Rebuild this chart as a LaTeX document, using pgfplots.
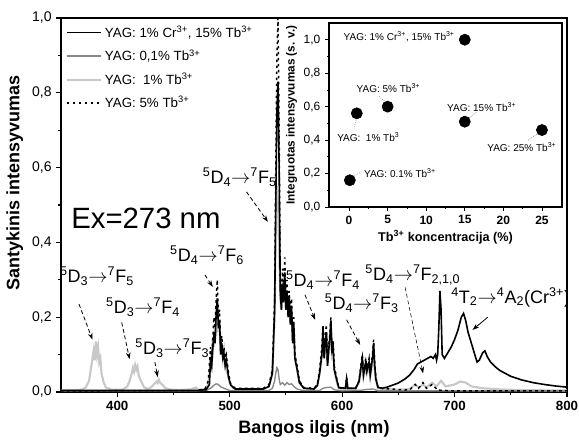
\documentclass[border=0pt]{standalone}
\usepackage{fontspec}
\setmainfont{Liberation Sans}
\usepackage{pgfplots}
\pgfplotsset{compat=1.18}
\usetikzlibrary{arrows.meta}

\definecolor{lgray}{RGB}{200,200,200}
\definecolor{mgray}{RGB}{135,135,135}

% transition label: ^aD_b -> ^cF_d
\newcommand{\tr}[4]{\textsuperscript{#1}D\textsubscript{#2}$\rightarrow$\textsuperscript{#3}F\textsubscript{#4}}

\begin{document}
\begin{tikzpicture}
\path[use as bounding box] (-45.75pt,-41.25pt) rectangle (388.5pt,294pt);
\begin{axis}[
  name=main,
  scale only axis,
  width=379.5pt, height=280.5pt,
  xmin=350, xmax=800, ymin=0, ymax=1.0,
  xtick={400,500,600,700,800},
  ytick={0,0.2,0.4,0.6,0.8,1.0},
  minor x tick num=1, minor y tick num=1,
  tick align=outside, tick pos=left,
  major tick length=3.5pt, minor tick length=2pt,
  axis line style={line width=1pt},
  every tick/.style={line width=0.8pt,black},
  /pgf/number format/assume math mode=true,
  x tick label style={font=\fontsize{10}{12}\selectfont\bfseries},
  y tick label style={font=\fontsize{10.5}{12}\selectfont,
    /pgf/number format/.cd,fixed,fixed zerofill,precision=1,use comma},
  xlabel={\bfseries Bangos ilgis (nm)},
  ylabel={\bfseries Santykinis intensyvumas},
  label style={font=\fontsize{13.5}{15}\selectfont},
  ylabel style={at={(ticklabel cs:0.56)}},
  legend style={at={(0.006,0.99)},anchor=north west,draw=none,fill=none,
    font=\fontsize{10}{12}\selectfont,row sep=3.6pt,inner sep=1pt},
  legend cell align=left,
  legend image code/.code={\draw[#1] (0pt,0pt) -- (26pt,0pt);},
]
\addlegendimage{black,line width=1.2pt}
\addlegendentry{YAG: 1\% Cr\textsuperscript{3+}, 15\% Tb\textsuperscript{3+}}
\addlegendimage{mgray,line width=1.5pt}
\addlegendentry{YAG: 0,1\% Tb\textsuperscript{3+}}
\addlegendimage{lgray,line width=1.5pt}
\addlegendentry{YAG:\ \ 1\% Tb\textsuperscript{3+}}
\addlegendimage{black,line width=1.1pt,dash pattern=on 2pt off 2.5pt}
\addlegendentry{YAG: 5\% Tb\textsuperscript{3+}}

% YAG: 1% Tb
\addplot[forget plot,lgray,line width=1.6pt] coordinates {
(350,0.004)(360,0.005)(368,0.006)(372,0.012)(375,0.03)(377,0.07)(378,0.09)(379,0.11)(380,0.085)(381,0.135)(382,0.1)(383,0.12)(384,0.08)(385,0.09)(386,0.05)(388,0.025)(390,0.012)(395,0.006)
(405,0.006)(409,0.015)(411,0.03)(413,0.05)(414,0.065)(415,0.055)(416,0.072)(417,0.06)(418,0.068)(419,0.045)(421,0.03)(424,0.012)(428,0.008)(431,0.015)(433,0.022)(435,0.028)(436,0.024)(437,0.033)(438,0.025)(440,0.02)(443,0.01)(448,0.006)
(455,0.005)(465,0.007)(470,0.012)(472,0.006)(478,0.008)(481,0.02)(483,0.08)(484,0.06)(485,0.14)(486,0.12)(487,0.18)(488,0.15)(489,0.22)(490,0.16)(491,0.19)(492,0.1)(493,0.13)(494,0.09)(495,0.11)(496,0.07)(498,0.05)(500,0.025)(503,0.01)
(510,0.006)(530,0.008)(535,0.015)(538,0.05)(540,0.2)(541,0.45)(542,0.55)(543,0.5)(544,0.38)(545,0.25)(546,0.22)(547,0.3)(548,0.24)(549,0.3)(550,0.22)(551,0.27)(552,0.2)(553,0.25)(554,0.18)(555,0.22)(556,0.14)(557,0.17)(558,0.1)(560,0.06)(562,0.025)(566,0.01)
(575,0.008)(578,0.018)(580,0.05)(582,0.1)(583,0.14)(584,0.09)(585,0.12)(586,0.15)(587,0.07)(588,0.1)(589,0.13)(590,0.16)(591,0.1)(592,0.11)(593,0.06)(595,0.03)(597,0.01)
(603,0.008)(604,0.03)(605,0.008)(612,0.008)(615,0.025)(617,0.06)(618,0.08)(619,0.04)(621,0.07)(622,0.05)(624,0.07)(625,0.04)(627,0.08)(628,0.1)(629,0.06)(630,0.03)(632,0.01)
(650,0.006)(660,0.008)(665,0.02)(668,0.012)(672,0.02)(675,0.012)(680,0.025)(684,0.015)(688,0.03)(692,0.015)(700,0.02)(705,0.028)(710,0.025)(715,0.015)(725,0.01)(740,0.007)(760,0.005)(800,0.004)
};
% YAG: 0,1% Tb
\addplot[forget plot,mgray,line width=1pt] coordinates {
(350,0.003)(470,0.003)(480,0.005)(484,0.012)(486,0.018)(488,0.022)(490,0.02)(492,0.014)(495,0.01)(500,0.004)
(535,0.004)(538,0.01)(540,0.03)(541,0.05)(542,0.065)(543,0.06)(544,0.035)(545,0.02)(547,0.025)(549,0.018)(551,0.025)(553,0.02)(555,0.022)(557,0.015)(560,0.008)(565,0.004)
(580,0.004)(583,0.01)(586,0.012)(590,0.013)(593,0.006)(600,0.003)(618,0.005)(622,0.007)(628,0.008)(632,0.003)(700,0.003)(800,0.003)
};
% YAG: 1% Cr, 15% Tb
\addplot[forget plot,black,line width=1.2pt] coordinates {
(350,0.004)(470,0.004)(479,0.006)(482,0.02)(483,0.09)(484,0.07)(486,0.16)(487,0.13)(488,0.21)(489,0.25)(490,0.17)(491,0.19)(492,0.1)(493,0.13)(494,0.09)(495,0.1)(496,0.07)(497,0.085)(499,0.04)(501,0.018)(505,0.008)
(530,0.008)(535,0.015)(538,0.05)(540,0.22)(541,0.5)(542,0.75)(543,0.83)(544,0.6)(545,0.27)(546,0.22)(547,0.29)(548,0.24)(549,0.32)(550,0.22)(551,0.27)(552,0.2)(553,0.25)(554,0.18)(555,0.23)(556,0.13)(557,0.18)(558,0.09)(560,0.06)(562,0.025)(566,0.01)
(575,0.008)(578,0.017)(580,0.05)(582,0.1)(583,0.17)(584,0.09)(585,0.13)(586,0.16)(587,0.07)(588,0.11)(589,0.14)(590,0.19)(591,0.11)(592,0.12)(593,0.06)(595,0.035)(597,0.012)
(603,0.01)(604,0.035)(605,0.01)(612,0.01)(615,0.028)(617,0.07)(618,0.09)(619,0.045)(621,0.08)(622,0.055)(624,0.08)(625,0.045)(627,0.09)(628,0.13)(629,0.07)(630,0.035)(632,0.012)
(636,0.01)(640,0.013)(650,0.024)(656,0.035)(660,0.045)(664,0.06)(667,0.075)(670,0.08)(673,0.085)(676,0.09)(679,0.095)(681,0.09)(683,0.1)(684,0.085)(685,0.1)(686,0.17)(687,0.27)(688,0.22)(689,0.1)(691,0.09)
(694,0.105)(697,0.12)(700,0.14)(703,0.165)(706,0.2)(708,0.21)(710,0.19)(712,0.16)(715,0.13)(718,0.1)(720,0.08)(722,0.085)(725,0.105)(727,0.11)(729,0.095)(732,0.08)(736,0.068)(740,0.058)(745,0.05)(750,0.042)(760,0.032)(770,0.025)(780,0.02)(790,0.016)(800,0.013)
};
% YAG: 5% Tb
\addplot[forget plot,black,line width=1.1pt,dash pattern=on 2pt off 2.5pt] coordinates {
(350,0.003)(470,0.004)(478,0.008)(481,0.03)(483,0.12)(484,0.09)(486,0.2)(487,0.17)(488,0.25)(489,0.30)(490,0.2)(491,0.22)(492,0.12)(493,0.15)(494,0.1)(495,0.12)(496,0.09)(497,0.1)(499,0.05)(501,0.02)(505,0.01)
(530,0.01)(535,0.02)(538,0.06)(540,0.25)(541,0.6)(542,0.9)(543,1.0)(544,0.7)(545,0.3)(546,0.25)(547,0.33)(548,0.28)(549,0.36)(550,0.25)(551,0.3)(552,0.22)(553,0.27)(554,0.2)(555,0.25)(556,0.15)(557,0.2)(558,0.1)(560,0.07)(562,0.03)(566,0.012)
(575,0.01)(578,0.02)(580,0.06)(582,0.12)(583,0.18)(584,0.1)(585,0.15)(586,0.18)(587,0.08)(588,0.12)(589,0.15)(590,0.2)(591,0.12)(592,0.14)(593,0.07)(595,0.04)(597,0.01)
(603,0.01)(604,0.04)(605,0.01)(612,0.01)(615,0.03)(617,0.08)(618,0.1)(619,0.05)(621,0.09)(622,0.06)(624,0.09)(625,0.05)(627,0.1)(628,0.14)(629,0.08)(630,0.04)(632,0.01)
(660,0.005)(665,0.02)(668,0.01)(672,0.025)(675,0.01)(680,0.02)(685,0.005)(700,0.003)(800,0.003)
};

\node[font=\fontsize{22}{24}\selectfont] at (axis cs:425.5,0.465) {Ex=273 nm};
\begin{scope}[font=\fontsize{13.5}{15}\selectfont]
\node at (axis cs:382,0.31) {\tr{5}{3}{7}{5}};
\node at (axis cs:423,0.227) {\tr{5}{3}{7}{4}};
\node at (axis cs:449,0.118) {\tr{5}{3}{7}{3}};
\node at (axis cs:480,0.366) {\tr{5}{4}{7}{6}};
\node at (axis cs:509,0.575) {\tr{5}{4}{7}{5}};
\node at (axis cs:583,0.30) {\tr{5}{4}{7}{4}};
\node at (axis cs:617.5,0.238) {\tr{5}{4}{7}{3}};
\node at (axis cs:663,0.313) {\tr{5}{4}{7}{2,1,0}};
\node at (axis cs:750,0.254) {\textsuperscript{4}T\textsubscript{2}$\rightarrow$\textsuperscript{4}A\textsubscript{2}(Cr\textsuperscript{3+})};
\end{scope}
\begin{scope}[-{Stealth[length=5pt,width=3.5pt]},line width=0.6pt,densely dashed]
\draw (axis cs:366,0.235) -- (axis cs:378,0.14);
\draw (axis cs:404,0.186) -- (axis cs:411,0.088);
\draw (axis cs:433.5,0.08) -- (axis cs:436,0.04);
\draw (axis cs:478,0.313) -- (axis cs:485,0.281);
\draw (axis cs:515,0.535) -- (axis cs:534,0.455);
\draw (axis cs:567,0.26) -- (axis cs:576,0.193);
\draw (axis cs:604,0.193) -- (axis cs:616,0.126);
\draw[line width=0.4pt] (axis cs:656,0.28) -- (axis cs:672,0.05);
\draw[solid] (axis cs:729.5,0.2) -- (axis cs:716,0.166);
\end{scope}
\end{axis}

\begin{axis}[
  name=inset,
  at={(201pt,138.75pt)}, anchor=south west,
  scale only axis,
  width=174.75pt, height=138pt,
  xmin=-2.6, xmax=27.6, ymin=0, ymax=1.1,
  xtick={0,5,10,15,20,25},
  ytick={0,0.2,0.4,0.6,0.8,1.0},
  minor x tick num=1, minor y tick num=1,
  tick align=outside, tick pos=left,
  major tick length=3pt, minor tick length=1.5pt,
  axis line style={line width=0.8pt},
  every tick/.style={line width=0.6pt,black},
  /pgf/number format/assume math mode=true,
  x tick label style={font=\fontsize{9}{11}\selectfont\bfseries},
  y tick label style={font=\fontsize{9}{11}\selectfont,
    /pgf/number format/.cd,fixed,fixed zerofill,precision=1,use comma},
  xlabel={\bfseries Tb\textsuperscript{3+} koncentracija (\%)},
  ylabel={\bfseries Integruotas intensyvumas (s. v.)},
  xlabel style={font=\fontsize{9.5}{11}\selectfont,yshift=2pt},
  ylabel style={font=\fontsize{8.8}{10}\selectfont,yshift=-2pt},
]
\addplot[only marks,mark=*,mark size=4.2pt,black] coordinates {
(0.1,0.16)(1,0.56)(5,0.60)(15,1.0)(15,0.51)(25,0.46)
};
\begin{scope}[font=\fontsize{7.5}{9}\selectfont]
\node at (axis cs:6.5,1.02) {YAG: 1\% Cr\textsuperscript{3+}, 15\% Tb\textsuperscript{3+}};
\node at (axis cs:5.1,0.71) {YAG: 5\% Tb\textsuperscript{3+}};
\node at (axis cs:2.5,0.42) {YAG:\ \ 1\% Tb\textsuperscript{3}};
\node at (axis cs:6.6,0.20) {YAG: 0.1\% Tb\textsuperscript{3+}};
\node at (axis cs:17.2,0.60) {YAG: 15\% Tb\textsuperscript{3+}};
\node at (axis cs:22.4,0.36) {YAG: 25\% Tb\textsuperscript{3+}};
\end{scope}
\begin{scope}[gray,densely dotted,line width=0.5pt]
\draw (axis cs:3.9,0.66) -- (axis cs:4.7,0.63);
\draw (axis cs:0.9,0.52) -- (axis cs:0.65,0.47);
\draw (axis cs:0.4,0.18) -- (axis cs:1.8,0.215);
\draw (axis cs:15,0.51) -- (axis cs:16.6,0.57);
\draw (axis cs:23.2,0.40) -- (axis cs:24.5,0.44);
\end{scope}
\end{axis}
\end{tikzpicture}
\end{document}
